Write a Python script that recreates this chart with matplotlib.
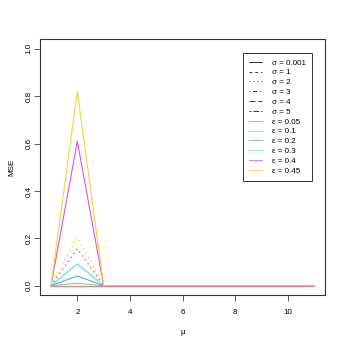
import numpy as np
import matplotlib.pyplot as plt
from matplotlib.lines import Line2D

plt.rcParams['font.family'] = ['Liberation Sans', 'DejaVu Sans']

# mu values on the x axis
mu = [1, 2, 3, 4, 5, 6, 7, 8, 9, 10, 11]

# MSE curves (solid, sigma = 0.001)
mse_eps_005 = [0, 0, 0, 0, 0, 0, 0, 0, 0, 0, 0]
mse_eps_01 = [0, 0.01, 0, 0, 0, 0, 0, 0, 0, 0, 0]
mse_eps_02 = [0, 0.041, 0, 0, 0, 0, 0, 0, 0, 0, 0]
mse_eps_03 = [0, 0.092, 0, 0, 0, 0, 0, 0, 0, 0, 0]
mse_eps_04 = [0, 0.61, 0, 0, 0, 0, 0, 0, 0, 0, 0]
mse_eps_045 = [0, 0.82, 0, 0, 0, 0, 0, 0, 0, 0, 0]

# MSE curves (dotted, sigma = 2)
mse_eps_04_dot = [0, 0.156, 0, 0, 0, 0, 0, 0, 0, 0, 0]
mse_eps_045_dot = [0, 0.205, 0, 0, 0, 0, 0, 0, 0, 0, 0]

sigma_labels = ['σ = 0.001', 'σ = 1', 'σ = 2', 'σ = 3', 'σ = 4', 'σ = 5']
eps_labels = ['ε = 0.05', 'ε = 0.1', 'ε = 0.2', 'ε = 0.3', 'ε = 0.4', 'ε = 0.45']

eps_colors = ['#EE7C88', '#7CD67C', '#5AA8F0', '#4EE0EE', '#E050E0', '#F8D040']
sigma_styles = ['-', (0, (3, 3)), (0, (1, 3)), (0, (1, 3, 4, 3)), (0, (6, 3)), (0, (2, 2, 6, 2))]

fig = plt.figure(figsize=(3.46, 3.46), dpi=100)
ax = fig.add_axes([0.117, 0.147, 0.822, 0.739])

lw = 0.8
curves = [mse_eps_005, mse_eps_01, mse_eps_02, mse_eps_03, mse_eps_04, mse_eps_045]
for y, c in zip(curves, eps_colors):
    ax.plot(mu, y, color=c, lw=lw)
ax.plot(mu, mse_eps_04_dot, color=eps_colors[4], lw=1.0, linestyle=(0, (1, 2.5)))
ax.plot(mu, mse_eps_045_dot, color=eps_colors[5], lw=1.0, linestyle=(0, (1, 2.5)))
# red line on top at zero
ax.plot(mu, mse_eps_005, color=eps_colors[0], lw=lw)

ax.set_xlim(0.6, 11.4)
ax.set_ylim(-0.04, 1.04)
ax.set_xticks([2, 4, 6, 8, 10])
ax.set_yticks([0, 0.2, 0.4, 0.6, 0.8, 1.0])
ax.set_yticklabels(['0.0', '0.2', '0.4', '0.6', '0.8', '1.0'], rotation=90, va='center')
ax.tick_params(labelsize=5.8, length=4, width=0.6, color='#444444')
ax.tick_params(axis='x', pad=6)
ax.tick_params(axis='y', pad=1.8)
for s in ax.spines.values():
    s.set_linewidth(0.8)
    s.set_color('#333333')

ax.set_xlabel('μ', fontsize=5.8, labelpad=9)
ax.set_ylabel('MSE', fontsize=5.8, labelpad=7)

handles = [Line2D([], [], color='#333333', lw=0.7, linestyle=st) for st in sigma_styles]
handles += [Line2D([], [], color=c, lw=0.7, alpha=0.75) for c in eps_colors]
leg = ax.legend(handles, sigma_labels + eps_labels, loc='upper left',
                bbox_to_anchor=(243 / 346, 1 - 53 / 346), bbox_transform=fig.transFigure,
                fontsize=5.8, handlelength=1.6, handletextpad=1.3, labelspacing=0.27,
                borderpad=0.75, borderaxespad=0, fancybox=False, framealpha=1)
leg.get_frame().set_edgecolor('#333333')
leg.get_frame().set_linewidth(0.7)

fig.savefig('out.png', dpi=100)
